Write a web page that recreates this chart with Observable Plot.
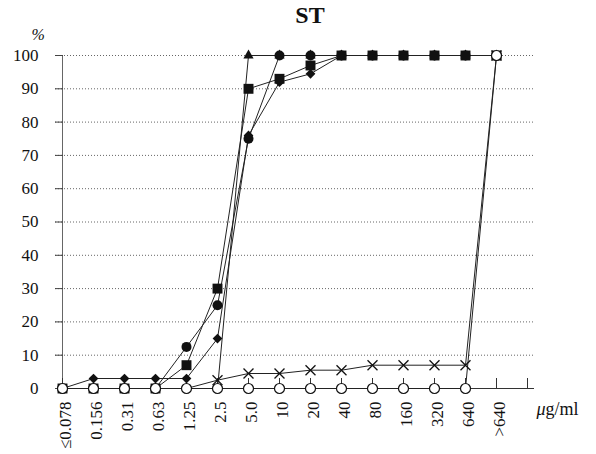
<!DOCTYPE html>
<html>
<head>
<meta charset="utf-8">
<script src="https://cdn.jsdelivr.net/npm/d3@7"></script>
<script src="https://cdn.jsdelivr.net/npm/@observablehq/plot@0.6"></script>
<style>
  html, body { margin: 0; padding: 0; background: #fff; }
</style>
</head>
<body>
<div id="chart"></div>
<script>
// Categories (concentration, µg/ml)
const cats = ["≤0.078", "0.156", "0.31", "0.63", "1.25", "2.5", "5.0", "10", "20", "40", "80", "160", "320", "640", ">640"];
const xTicks = [...cats, ""];
const yTicks = [0, 10, 20, 30, 40, 50, 60, 70, 80, 90, 100];

// Series values (%)
const triangleVals = [0, 0, 0, 0, 0, 0, 100, 100, 100, 100, 100, 100, 100, 100, 100];
const circleVals   = [0, 0, 0, 0, 12.5, 25, 75, 100, 100, 100, 100, 100, 100, 100, 100];
const squareVals   = [0, 0, 0, 0, 7, 30, 90, 93, 97, 100, 100, 100, 100, 100, 100];
const diamondVals  = [0, 3, 3, 3, 3, 15, 76, 92, 94.5, 100, 100, 100, 100, 100, 100];
const crossVals    = [0, 0, 0, 0, 0, 2.5, 4.5, 4.5, 5.5, 5.5, 7, 7, 7, 7, 100];
const openVals     = [0, 0, 0, 0, 0, 0, 0, 0, 0, 0, 0, 0, 0, 0, 100];

const seriesNames = ["triangle", "circle", "square", "diamond", "cross", "open"];
const seriesVals = [triangleVals, circleVals, squareVals, diamondVals, crossVals, openVals];

const table = seriesNames.flatMap((name, k) =>
  seriesVals[k].map((v, i) => ({series: name, cat: cats[i], value: v}))
);
const of = name => table.filter(d => d.series === name);

const ink = "#111";
const font = "'Liberation Serif', 'Times New Roman', serif";

const chart = Plot.plot({
  width: 596,
  height: 454,
  marginLeft: 55,
  marginRight: 62,
  marginTop: 55,
  marginBottom: 66,
  style: {fontFamily: font, background: "#fff", color: ink},
  x: {type: "point", domain: xTicks, padding: 0},
  y: {domain: [0, 100]},
  marks: [
    Plot.gridY(yTicks.filter(t => t > 0), {stroke: "#666", strokeOpacity: 1, strokeDasharray: "1,2"}),
    Plot.ruleX([cats[0]], {stroke: "#666"}),
    Plot.ruleY([0], {stroke: "#333"}),
    Plot.axisY(yTicks, {tickSize: 8, dx: 8, fill: "none", label: null, stroke: "#444"}),
    Plot.axisY(yTicks, {tickSize: 0, tickPadding: 17, fontSize: 17, label: null}),
    Plot.axisX(xTicks, {tickSize: 10, dy: -10, fill: "none", label: null, stroke: "#333"}),
    Plot.axisX(xTicks, {tickSize: 0, tickRotate: -90, tickPadding: 13, dx: 3, fontSize: 17, label: null}),
    Plot.line(table, {x: "cat", y: "value", z: "series", stroke: "#222", strokeWidth: 1}),
    Plot.dot(of("triangle").filter(d => d.value > 0), {x: "cat", y: "value", symbol: "triangle", r: 3.8, fill: ink}),
    Plot.dot(of("circle"), {x: "cat", y: "value", symbol: "circle", r: 5, fill: ink}),
    Plot.dot(of("diamond"), {x: "cat", y: "value", symbol: "diamond2", r: 4.4, fill: ink}),
    Plot.dot(of("square"), {x: "cat", y: "value", symbol: "square", r: 5.6, fill: ink}),
    Plot.dot(of("cross").filter(d => d.value > 0), {x: "cat", y: "value", symbol: "times", r: 4.6, stroke: ink, strokeWidth: 1.3}),
    Plot.dot(of("open"), {x: "cat", y: "value", symbol: "circle", r: 5, fill: "#fff", stroke: ink, strokeWidth: 1.2}),
    Plot.text(["ST"], {frameAnchor: "top", dx: 15, dy: -40, fontSize: 24, fontWeight: "bold", lineAnchor: "middle", fill: ink}),
    Plot.text(["%"], {frameAnchor: "top-left", dx: -24, dy: -21, fontSize: 16, fontStyle: "italic", lineAnchor: "middle", fill: ink}),
    Plot.text(["μ"], {frameAnchor: "bottom-right", dx: 2, dy: 21, fontSize: 18, fontStyle: "italic", textAnchor: "start", lineAnchor: "middle", fill: ink}),
    Plot.text(["g/ml"], {frameAnchor: "bottom-right", dx: 11, dy: 21, fontSize: 18, textAnchor: "start", lineAnchor: "middle", fill: ink})
  ]
});
document.getElementById("chart").appendChild(chart);
</script>
</body>
</html>
